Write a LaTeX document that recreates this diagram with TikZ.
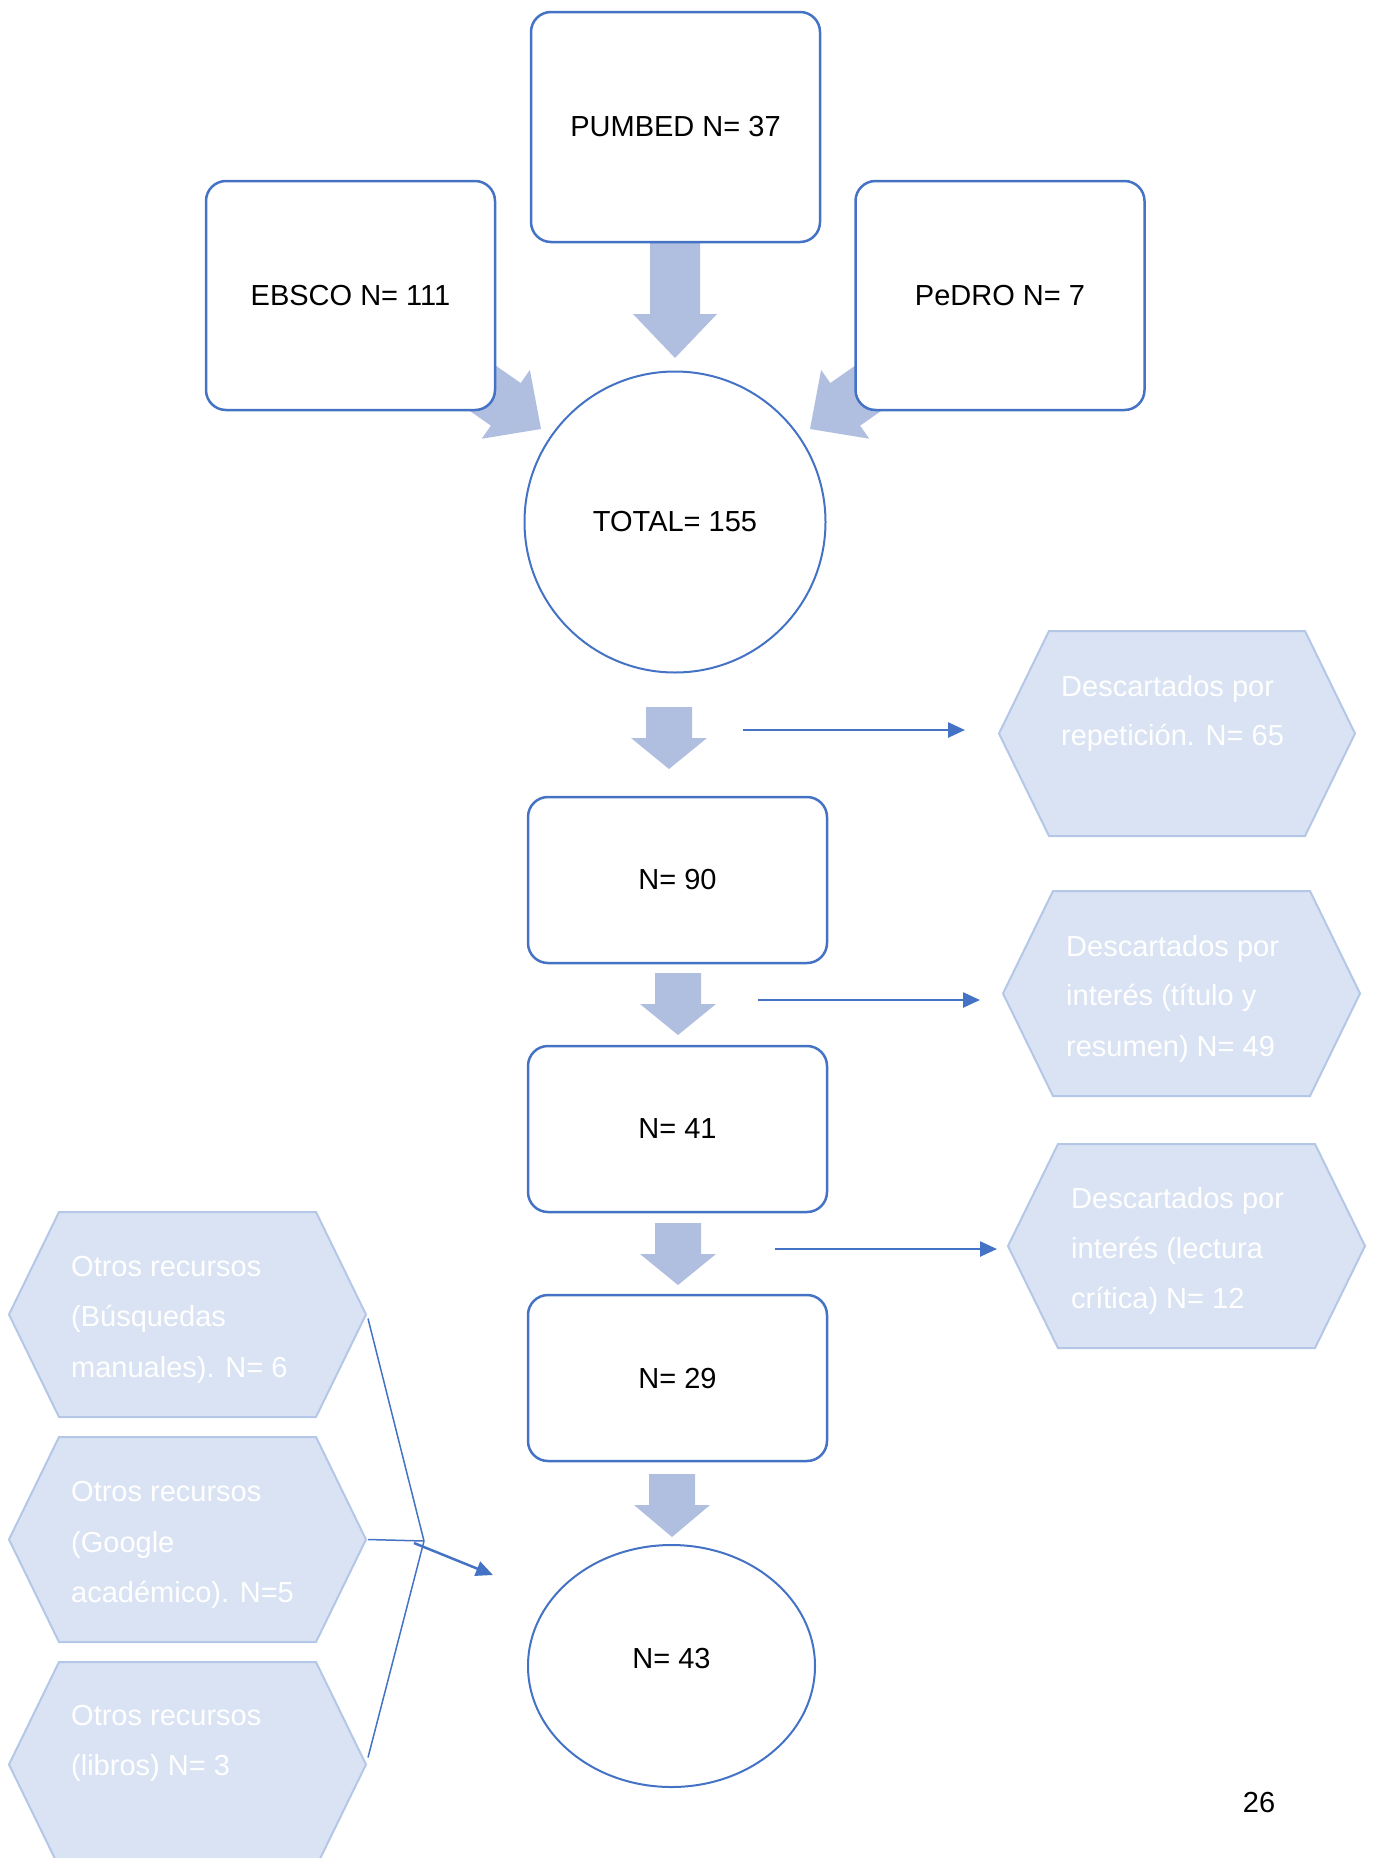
\documentclass[tikz,border=0pt]{standalone}
\usepackage{fontspec}
\setmainfont{Liberation Sans}
\usetikzlibrary{arrows.meta,shapes.geometric}
\definecolor{bdr}{RGB}{68,114,196}
\definecolor{arrf}{RGB}{176,190,224}
\definecolor{hexf}{RGB}{218,227,243}
\definecolor{hexb}{RGB}{180,199,231}
% block arrow: tip x, tip y, angle, total length, shaft half width, head half width, head length
\newcommand\blockarr[7]{%
  \fill[arrf, shift={(#1,#2)}, rotate=#3]
    (-#4,-#5) -- (-#7,-#5) -- (-#7,-#6) -- (0,0) -- (-#7,#6) -- (-#7,#5) -- (-#4,#5) -- cycle;}
% hexagon: name, left, top, inset, width, height
\newcommand\hexa[6]{%
  \filldraw[hexshape]
    (#2,#3+#6/2) -- (#2+#4,#3) -- (#2+#5-#4,#3) -- (#2+#5,#3+#6/2)
    -- (#2+#5-#4,#3+#6) -- (#2+#4,#3+#6) -- cycle;
  \coordinate (#1R) at (#2+#5,#3+#6/2);}
\begin{document}
\begin{tikzpicture}[x=1pt,y=-1pt,
  box/.style={draw=bdr, line width=2.5pt, fill=white, rounded corners=20pt,
    inner sep=0pt, outer sep=0pt, minimum width=289pt, font=\fontsize{29}{35}\selectfont},
  rnd/.style={draw=bdr, line width=2pt, fill=white, inner sep=0pt, outer sep=0pt,
    font=\fontsize{29}{35}\selectfont},
  hexshape/.style={fill=hexf, draw=hexb, line width=2pt},
  hextxt/.style={anchor=base west, text=white, inner sep=0pt, font=\fontsize{29}{35}\selectfont},
  thinarr/.style={draw=bdr, line width=2.5pt, -{Triangle[length=17pt,width=15pt]}},
  conn/.style={draw=bdr, line width=1.5pt}]
\useasboundingbox (0,0) rectangle (1373,1858);
\clip (0,0) rectangle (1373,1858);

% thick block arrows
\blockarr{675}{358}{-90}{160}{25}{42}{44}
\blockarr{541}{429}{-35}{150}{26}{42}{43}
\blockarr{810}{429}{-145}{150}{26}{42}{43}
\blockarr{669}{769}{-90}{62}{23}{38}{31}
\blockarr{678}{1035}{-90}{62}{23}{38}{31}
\blockarr{678}{1285}{-90}{62}{23}{38}{31}
\blockarr{672}{1537}{-90}{63}{23}{38}{32}

% sources
\node[box, minimum height=230pt] (pub) at (675.5,127) {PUMBED N= 37};
\node[box, minimum height=229pt] (ebs) at (350.5,295.5) {EBSCO N= 111};
\node[box, minimum height=229pt] (ped) at (1000,295.5) {PeDRO N= 7};
\node[rnd, circle, minimum size=301pt] (tot) at (675,522) {TOTAL= 155};

% stages
\node[box, minimum width=299pt, minimum height=166pt] (n90) at (677.5,880) {N= 90};
\node[box, minimum width=299pt, minimum height=166pt] (n41) at (677.5,1129) {N= 41};
\node[box, minimum width=299pt, minimum height=166pt] (n29) at (677.5,1378) {N= 29};
\node[rnd, ellipse, minimum width=287pt, minimum height=242pt] (n43) at (671.5,1666) {\raisebox{16pt}{N= 43}};

% discarded hexagons (right)
\hexa{h1}{999}{631}{50}{356}{205}
\hexa{h2}{1003}{891}{50}{357}{205}
\hexa{h3}{1008}{1144}{50}{357}{204}
\node[hextxt] (h1a) at (1061,696) {Descartados por};
\node[hextxt] (h1b) at (1061,745) {repetición. N= 65};
\node[hextxt] (h2a) at (1066,956) {Descartados por};
\node[hextxt] (h2b) at (1066,1005) {interés (título y};
\node[hextxt] (h2c) at (1066,1056) {resumen) N= 49};
\node[hextxt] (h3a) at (1071,1208) {Descartados por};
\node[hextxt] (h3b) at (1071,1258) {interés (lectura};
\node[hextxt] (h3c) at (1071,1308) {crítica) N= 12};

% other resources hexagons (left)
\hexa{hA}{9}{1212}{50}{357}{205}
\hexa{hB}{9}{1437}{50}{357}{205}
\hexa{hC}{9}{1662}{50}{357}{205}
\node[hextxt] (hAa) at (71,1276) {Otros recursos};
\node[hextxt] (hAb) at (71,1326) {(Búsquedas};
\node[hextxt] (hAc) at (71,1377) {manuales). N= 6};
\node[hextxt] (hBa) at (71,1501) {Otros recursos};
\node[hextxt] (hBb) at (71,1552) {(Google};
\node[hextxt] (hBc) at (71,1602) {académico). N=5};
\node[hextxt] (hCa) at (71,1725) {Otros recursos};
\node[hextxt] (hCb) at (71,1775) {(libros) N= 3};

% thin arrows to discarded
\coordinate (a1s) at (743,730);  \coordinate (a1e) at (965,730);
\coordinate (a2s) at (758,1000); \coordinate (a2e) at (980,1000);
\coordinate (a3s) at (775,1249); \coordinate (a3e) at (997,1249);
\draw[thinarr] (a1s) -- (a1e);
\draw[thinarr] (a2s) -- (a2e);
\draw[thinarr] (a3s) -- (a3e);

% connectors from left hexagons
\coordinate (jn) at (424,1541);
\coordinate (js) at (414,1543);
\coordinate (jt) at (493,1575);
\draw[conn] ([shift={(2,4)}]hAR) -- (jn);
\draw[conn] ([shift={(2,0)}]hBR) -- (jn);
\draw[conn] ([shift={(2,-7)}]hCR) -- (jn);
\draw[thinarr] (js) -- (jt);

% page number
\node[font=\fontsize{29}{35}\selectfont, inner sep=0pt] (pg) at (1259,1802) {26};
\end{tikzpicture}
\end{document}
